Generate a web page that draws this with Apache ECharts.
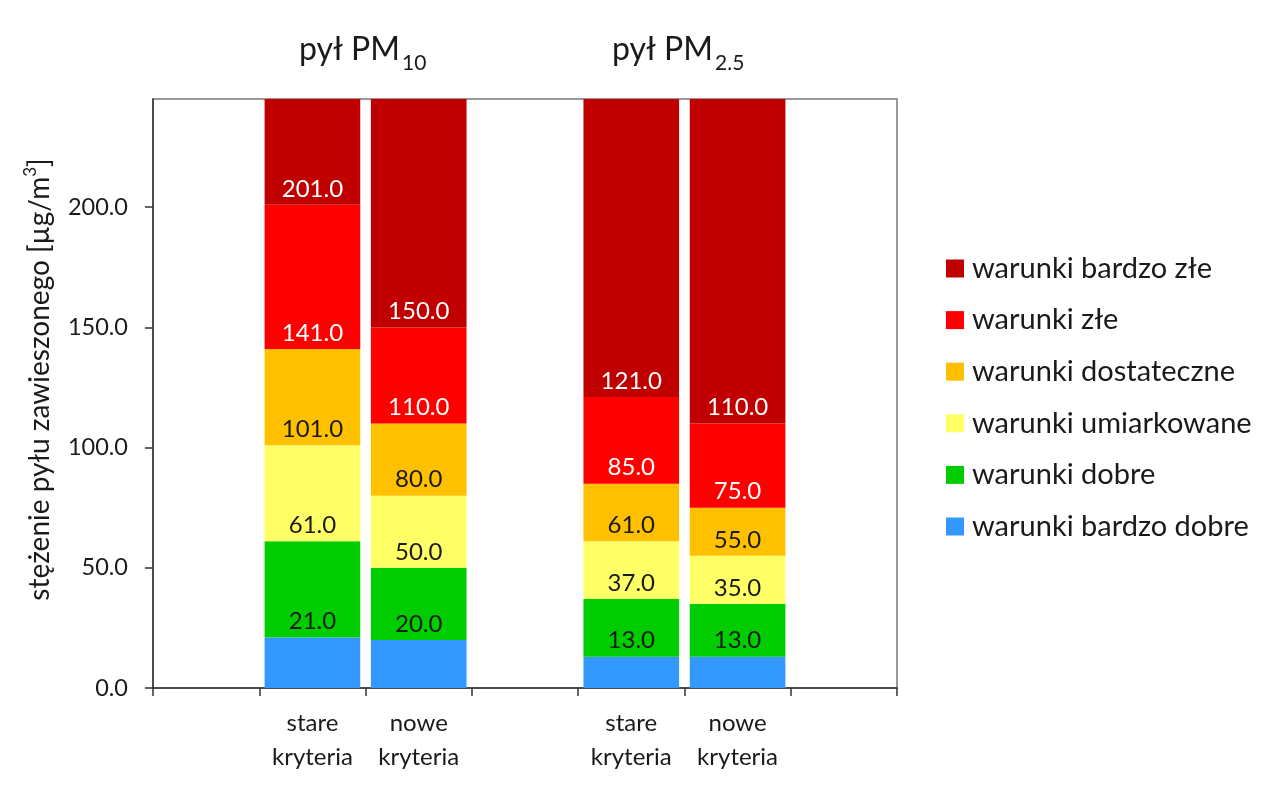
<!DOCTYPE html>
<html lang="pl">
<head>
<meta charset="UTF-8">
<title>Stężenie pyłu zawieszonego</title>
<script src="https://cdn.jsdelivr.net/npm/echarts@6/dist/echarts.min.js"></script>
<style>
    html, body { margin: 0; padding: 0; background: #fff; }
    #chart { width: 1280px; height: 788px; }
</style>
</head>
<body>
<div id="chart"></div>
<script>
// kategorie osi X (puste pola rozdzielają grupy PM10 i PM2.5)
const categories = ['', 'stare\nkryteria', 'nowe\nkryteria', '', 'stare\nkryteria', 'nowe\nkryteria', ''];

// górne granice klas [µg/m3] dla każdej kolumny
const bardzoDobre = [null, 21, 20, null, 13, 13, null];
const dobre       = [null, 61, 50, null, 37, 35, null];
const umiarkowane = [null, 101, 80, null, 61, 55, null];
const dostateczne = [null, 141, 110, null, 85, 75, null];
const zle         = [null, 201, 150, null, 121, 110, null];
const axisTop = 245;
const bardzoZle   = [null, axisTop, axisTop, null, axisTop, axisTop, null];

const yTicks = [0, 50, 100, 150, 200];

const levels = [
    { name: 'warunki bardzo dobre', upper: bardzoDobre, color: '#3399FF', label: '#1a1a1a' },
    { name: 'warunki dobre',        upper: dobre,       color: '#00CC00', label: '#1a1a1a' },
    { name: 'warunki umiarkowane',  upper: umiarkowane, color: '#FFFF66', label: '#1a1a1a' },
    { name: 'warunki dostateczne',  upper: dostateczne, color: '#FFC000', label: '#1a1a1a' },
    { name: 'warunki złe',          upper: zle,         color: '#FF0000', label: '#ffffff' },
    { name: 'warunki bardzo złe',   upper: bardzoZle,   color: '#C00000', label: '#ffffff' }
];

const FONT = 'Lato';
const INK = '#1a1a1a';

const series = levels.map(function (lv, i) {
    const prev = i > 0 ? levels[i - 1].upper : null;
    return {
        name: lv.name,
        type: 'bar',
        stack: 'all',
        barCategoryGap: '10%',
        itemStyle: { color: lv.color },
        label: {
            show: i > 0,
            position: 'insideBottom',
            distance: 4,
            color: lv.label,
            fontFamily: FONT,
            fontSize: 24,
            formatter: function (p) {
                return prev ? prev[p.dataIndex].toFixed(1) : '';
            }
        },
        data: lv.upper.map(function (v, k) {
            if (v == null) return '-';
            return prev ? v - prev[k] : v;
        })
    };
});

function titleRich() {
    return {
        a: { fontFamily: FONT, fontSize: 32, fontWeight: 'normal', color: INK },
        b: { fontFamily: FONT, fontSize: 21, fontWeight: 'normal', color: INK, verticalAlign: 'bottom', padding: [0, 0, -8, 2] }
    };
}

const chart = echarts.init(document.getElementById('chart'));
chart.setOption({
    backgroundColor: '#fff',
    animation: false,
    title: [
        { text: '{a|pył PM}{b|10}', left: 299, top: 34, padding: 0, textStyle: { fontWeight: 'normal', rich: titleRich() } },
        { text: '{a|pył PM}{b|2.5}', left: 612, top: 34, padding: 0, textStyle: { fontWeight: 'normal', rich: titleRich() } }
    ],
    legend: {
        orient: 'vertical',
        left: 946,
        top: 254,
        padding: 0,
        icon: 'rect',
        itemWidth: 18,
        itemHeight: 18,
        itemGap: 22.6,
        data: levels.map(function (l) { return l.name; }).reverse(),
        textStyle: { fontFamily: FONT, fontSize: 29, lineHeight: 24, color: INK, padding: [0, 0, 0, 3] }
    },
    grid: {
        left: 153, right: 383, top: 99, bottom: 100,
        show: true, borderColor: '#7a7a7a', borderWidth: 1.5
    },
    xAxis: {
        type: 'category',
        data: categories,
        axisLine: { lineStyle: { color: '#333', width: 1.5 } },
        axisTick: { show: true, length: 8, lineStyle: { color: '#333', width: 1.5 } },
        axisLabel: {
            interval: 0, margin: 18,
            fontFamily: FONT, fontSize: 24, lineHeight: 34, color: INK
        }
    },
    yAxis: {
        type: 'value',
        min: 0, max: axisTop,
        name: 'stężenie pyłu zawieszonego [µg/m{s|3}]',
        nameLocation: 'middle',
        nameGap: 99,
        nameTextStyle: {
            fontFamily: FONT, fontSize: 28, color: INK, padding: [0, 0, 0, 28],
            rich: { s: { fontFamily: FONT, fontSize: 17, color: INK, verticalAlign: 'top', padding: [-4, 0, 0, 0] } }
        },
        splitLine: { show: false },
        axisLine: { show: true, lineStyle: { color: '#333', width: 1.5 } },
        axisTick: { show: true, length: 8, customValues: yTicks, lineStyle: { color: '#333', width: 1.5 } },
        axisLabel: {
            customValues: yTicks, margin: 25,
            fontFamily: FONT, fontSize: 23.5, color: INK,
            formatter: function (v) { return v.toFixed(1); }
        }
    },
    series: series
});
</script>
</body>
</html>
